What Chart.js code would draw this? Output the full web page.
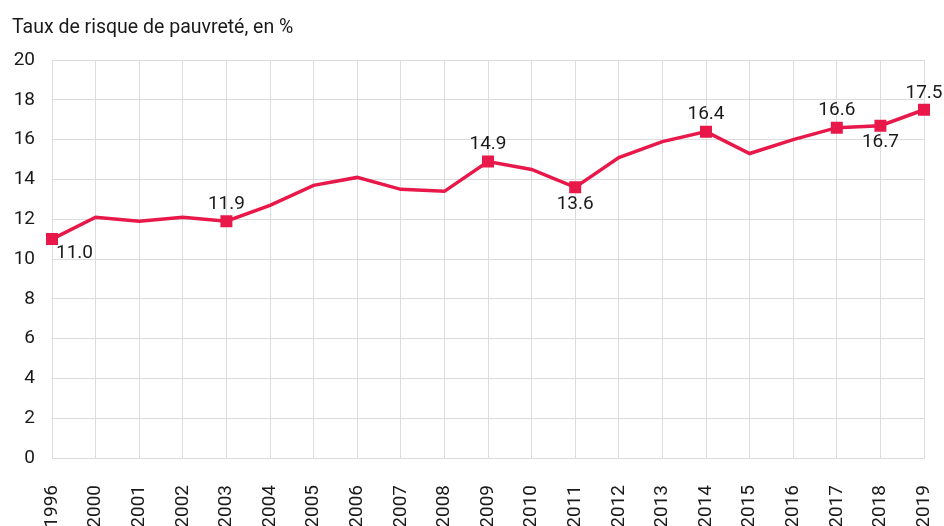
<!DOCTYPE html>
<html>
<head>
<meta charset="utf-8">
<script src="https://cdn.jsdelivr.net/npm/chart.js@4"></script>
<style>
  html, body { margin: 0; padding: 0; background: #fff; overflow: hidden; }
  #wrap { width: 944px; height: 526px; }
</style>
</head>
<body>
<div id="wrap"><canvas id="myChart"></canvas></div>
<script>
const years = ['1996','2000','2001','2002','2003','2004','2005','2006','2007','2008','2009',
               '2010','2011','2012','2013','2014','2015','2016','2017','2018','2019'];
const rates = [11.0, 12.1, 11.9, 12.1, 11.9, 12.7, 13.7, 14.1, 13.5, 13.4, 14.9,
               14.5, 13.6, 15.1, 15.9, 16.4, 15.3, 16.0, 16.6, 16.7, 17.5];
// years that get a marker + value label, and where the label sits
const labelled = { '1996': 'below-right', '2003': 'above', '2009': 'above', '2011': 'below',
                   '2014': 'above', '2017': 'above', '2018': 'below', '2019': 'above' };

const red = '#e8194a';
const fontFam = 'Roboto, "Noto Sans", sans-serif';

const valueLabels = {
    id: 'valueLabels',
    afterDatasetsDraw(chart) {
        const ctx = chart.ctx;
        const meta = chart.getDatasetMeta(0);
        ctx.save();
        ctx.font = '19px ' + fontFam;
        ctx.fillStyle = '#1a1a1a';
        ctx.textBaseline = 'middle';
        meta.data.forEach((pt, i) => {
            const pos = labelled[years[i]];
            if (!pos) return;
            const txt = rates[i].toFixed(1);
            if (pos === 'above') {
                ctx.textAlign = 'center';
                ctx.fillText(txt, pt.x, pt.y - 17);
            } else if (pos === 'below') {
                ctx.textAlign = 'center';
                ctx.fillText(txt, pt.x, pt.y + 17);
            } else {
                ctx.textAlign = 'left';
                ctx.fillText(txt, pt.x + 4, pt.y + 14);
            }
        });
        ctx.restore();
    }
};

const ctx = document.getElementById('myChart').getContext('2d');
new Chart(ctx, {
    type: 'line',
    data: {
        labels: years,
        datasets: [{
            data: rates,
            borderColor: red,
            backgroundColor: red,
            borderWidth: 3.5,
            tension: 0,
            pointStyle: 'rect',
            pointRadius: years.map(y => labelled[y] ? 6 : 0),
            pointHoverRadius: years.map(y => labelled[y] ? 6 : 0),
        }]
    },
    options: {
        responsive: true,
        maintainAspectRatio: false,
        animation: false,
        layout: { padding: { left: 12, right: 20, top: 0, bottom: 0 } },
        plugins: {
            legend: { display: false },
            tooltip: { enabled: false },
            title: {
                display: true,
                text: 'Taux de risque de pauvreté, en %',
                align: 'start',
                color: '#1a1a1a',
                font: { family: fontFam, size: 19.5, weight: 'normal' },
                padding: { top: 16, bottom: 20.6 }
            }
        },
        scales: {
            x: {
                offset: false,
                grid: { color: '#dcdcdc', lineWidth: 1, drawTicks: false },
                border: { color: '#dcdcdc' },
                ticks: {
                    autoSkip: false,
                    minRotation: 90,
                    maxRotation: 90,
                    padding: 27,
                    color: '#1a1a1a',
                    font: { family: fontFam, size: 19 }
                },
                afterFit(axis) {
                    axis.height = 68;
                    axis.paddingLeft = 0;
                    axis.paddingRight = 0;
                }
            },
            y: {
                min: 0,
                max: 20,
                grid: { color: '#dcdcdc', lineWidth: 1, drawTicks: false },
                border: { color: '#dcdcdc' },
                ticks: {
                    stepSize: 2,
                    padding: 17,
                    color: '#1a1a1a',
                    font: { family: fontFam, size: 19 }
                },
                afterFit(axis) { axis.width = 40; }
            }
        }
    },
    plugins: [valueLabels]
});
</script>
</body>
</html>
